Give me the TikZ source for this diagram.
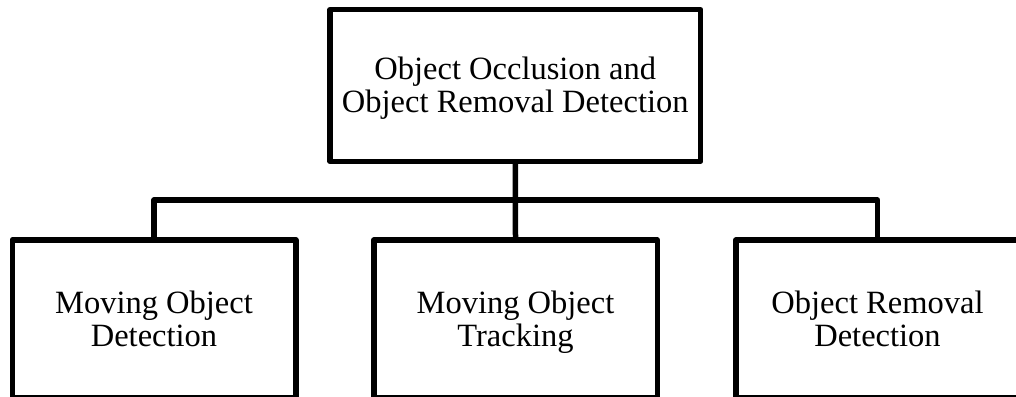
\documentclass[tikz,border=0pt]{standalone}
\usepackage{fontspec}
\setmainfont{Liberation Serif}
\begin{document}
\begin{tikzpicture}[x=1pt,y=-1pt,
  blockbox/.style={draw=black, line width=5.5pt, line join=round, fill=white,
    inner sep=0pt},
  caption/.style={align=center, inner sep=0pt, yshift=-4pt,
    font=\fontsize{32.5}{33}\selectfont},
  topbox/.style={blockbox, minimum width=370.5pt, minimum height=151.5pt},
  subbox/.style={blockbox, minimum width=283.5pt, minimum height=158pt},
  link/.style={draw=black, line width=5.5pt, line join=round}]
\useasboundingbox (0,0) rectangle (1016,396);

% root of the hierarchy
\node[topbox, label={[caption]center:Object Occlusion and\strut\\Object Removal Detection\strut}] (root) at (515.25,85.5) {};

% the three sub-tasks
\node[subbox, label={[caption]center:Moving Object\strut\\Detection\strut}] (detect) at (154,319) {};
\node[subbox, label={[caption]center:Moving Object\strut\\Tracking\strut}] (track) at (515.5,319) {};
\node[subbox, label={[caption]center:Object Removal\strut\\Detection\strut}] (remove) at (877.5,319) {};

% branching connectors
\coordinate (bar) at (515.5,200);
\path[link] (root.south) -- (track.north);
\path[link] (detect.north) |- (bar) -| (remove.north);
\end{tikzpicture}
\end{document}
